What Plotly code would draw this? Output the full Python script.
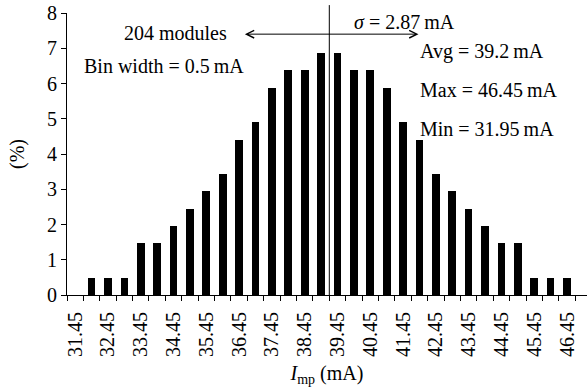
import plotly.graph_objects as go

# Data: bin centres (mA) and share of the 204 modules (%)
bin_centers = [31.95, 32.45, 32.95, 33.45, 33.95, 34.45, 34.95, 35.45, 35.95, 36.45,
               36.95, 37.45, 37.95, 38.45, 38.95, 39.45, 39.95, 40.45, 40.95, 41.45,
               41.95, 42.45, 42.95, 43.45, 43.95, 44.45, 44.95, 45.45, 45.95, 46.45]
percent = [0.49, 0.49, 0.49, 1.47, 1.47, 1.96, 2.45, 2.94, 3.43, 4.41,
           4.90, 5.88, 6.37, 6.37, 6.86, 6.86, 6.37, 6.37, 5.88, 4.90,
           4.41, 3.43, 2.94, 2.45, 1.96, 1.47, 1.47, 0.49, 0.49, 0.49]
tick_values = [31.45, 32.45, 33.45, 34.45, 35.45, 36.45, 37.45, 38.45,
               39.45, 40.45, 41.45, 42.45, 43.45, 44.45, 45.45, 46.45]
tick_labels = ["31.45", "32.45", "33.45", "34.45", "35.45", "36.45", "37.45", "38.45",
               "39.45", "40.45", "41.45", "42.45", "43.45", "44.45", "45.45", "46.45"]
avg = 39.2
sigma = 2.87
bin_width = 0.5

FONT = "Liberation Serif"
FS = 20
boundaries = [31.2 + bin_width * k for k in range(32)]

fig = go.Figure()
fig.add_trace(go.Bar(x=bin_centers, y=percent, width=0.235,
                     marker=dict(color="black", line=dict(width=0)),
                     showlegend=False, hoverinfo="skip"))

fig.add_shape(type="line", xref="x", yref="paper", x0=avg, x1=avg, y0=0, y1=1.028,
              line=dict(color="black", width=1))

annots = [
    dict(x=41.92, y=7.40, ax=36.58, ay=7.40, xref="x", yref="y", axref="x", ayref="y",
         text="", showarrow=True, arrowhead=5, startarrowhead=5, arrowside="end+start",
         arrowwidth=1, arrowsize=1.5, startarrowsize=1.5, arrowcolor="black"),
    dict(x=36.14, y=7.43, text="204 modules", xanchor="right", yanchor="middle"),
    dict(x=31.66, y=6.50, text="Bin width = 0.5\u2009mA", xanchor="left", yanchor="middle"),
    dict(x=39.90, y=7.75, text="<i>σ</i> = 2.87\u2009mA", xanchor="left", yanchor="middle"),
    dict(x=41.91, y=6.90, text="Avg = 39.2\u2009mA", xanchor="left", yanchor="middle"),
    dict(x=41.91, y=5.82, text="Max = 46.45\u2009mA", xanchor="left", yanchor="middle"),
    dict(x=41.91, y=4.72, text="Min = 31.95\u2009mA", xanchor="left", yanchor="middle"),
]
for a in annots:
    a.setdefault("xref", "x")
    a.setdefault("yref", "y")
    a.setdefault("showarrow", False)
    a["font"] = dict(family=FONT, size=FS, color="black")
    fig.add_annotation(**a)

fig.update_layout(
    width=588, height=389,
    margin=dict(l=67, r=1, t=13, b=94),
    paper_bgcolor="white", plot_bgcolor="white",
    font=dict(family=FONT, size=FS, color="black"),
    bargap=0,
)
fig.update_xaxes(
    range=[31.2, 47.06], tickvals=tick_values, ticktext=tick_labels, tickangle=-90,
    ticks="", showline=True, linecolor="black", linewidth=1, showgrid=False, zeroline=False,
    ticklabelstandoff=8, automargin=False,
    minor=dict(tickvals=boundaries, ticks="outside", ticklen=5, tickcolor="black",
               tickwidth=1, showgrid=False),
    title=dict(text="<i>I</i><sub>mp</sub> (mA)", standoff=9,
               font=dict(family=FONT, size=FS, color="black")),
)
fig.update_yaxes(
    range=[0, 8], dtick=1, ticks="outside", ticklen=5, tickcolor="black",
    showline=True, linecolor="black", linewidth=1, showgrid=False, zeroline=False,
    automargin=False,
    title=dict(text="(%)", standoff=17, font=dict(family=FONT, size=FS, color="black")),
)

fig.write_html("out.html", config={"displayModeBar": False},
               post_script="document.body.style.margin='0';document.body.style.overflow='hidden';")
